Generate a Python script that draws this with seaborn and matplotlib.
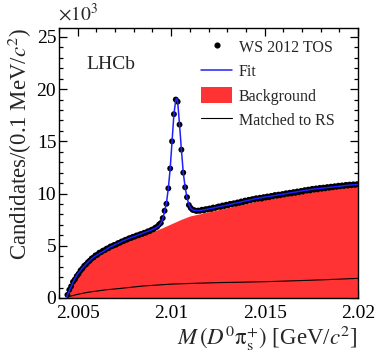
import numpy as np
import pandas as pd
import matplotlib
matplotlib.use("Agg")
import matplotlib.pyplot as plt
from matplotlib.ticker import MultipleLocator
from matplotlib.lines import Line2D
from matplotlib.patches import Patch
import seaborn as sns

# ---------------- data (values in units of 10^3 candidates) ----------------
bin_first_center = 2.00445   # GeV/c^2
bin_width = 0.0001           # 0.1 MeV/c^2

data_counts = [
    0.30, 0.78, 1.12, 1.55, 1.78, 2.10, 2.32, 2.63, 2.82, 3.08,
    3.22, 3.43, 3.58, 3.79, 3.88, 4.08, 4.13, 4.33, 4.38, 4.53,
    4.58, 4.73, 4.77, 4.93, 4.96, 5.08, 5.10, 5.25, 5.28, 5.41,
    5.44, 5.57, 5.60, 5.72, 5.74, 5.86, 5.88, 5.99, 6.00, 6.11,
    6.13, 6.24, 6.26, 6.38, 6.40, 6.53, 6.58, 6.73, 6.82, 7.03,
    7.18, 7.65, 8.35, 9.02, 10.5, 12.4, 15.0, 17.6, 19.0, 18.8,
    16.6, 14.2, 12.0, 10.6, 9.65, 8.90, 8.62, 8.44, 8.40, 8.33,
    8.37, 8.35,
    8.45, 8.38, 8.51, 8.47, 8.57, 8.52, 8.66, 8.62, 8.70, 8.77,
    8.72, 8.86, 8.80, 8.93, 8.88, 9.01, 8.97, 9.07, 9.02, 9.15,
    9.10, 9.24, 9.18, 9.33, 9.27, 9.40, 9.36, 9.47, 9.43, 9.55,
    9.49, 9.60, 9.52, 9.66, 9.61, 9.72, 9.65, 9.77, 9.74, 9.86,
    9.79, 9.90, 9.84, 9.95, 9.91, 10.03, 9.97, 10.08, 10.01, 10.14,
    10.07, 10.20, 10.13, 10.25, 10.19, 10.33, 10.27, 10.38, 10.30, 10.45,
    10.37, 10.49, 10.40, 10.54, 10.46, 10.57, 10.50, 10.62, 10.55, 10.66,
    10.60, 10.70, 10.64, 10.75, 10.69, 10.78, 10.72, 10.83, 10.76, 10.86,
    10.80, 10.88, 10.82, 10.90,
]

fit_mass = [2.00441, 2.00445, 2.0046, 2.0048, 2.0050, 2.0052, 2.0055, 2.0058,
            2.0061, 2.0064, 2.0067, 2.0070, 2.0074, 2.0078, 2.0082, 2.0086,
            2.0089, 2.0092, 2.00935, 2.00945, 2.00955, 2.00965, 2.00975,
            2.00985, 2.00995, 2.01005, 2.01015, 2.01025, 2.0103, 2.01035,
            2.01045, 2.01055, 2.01065, 2.01075, 2.01085, 2.01095, 2.01105,
            2.01115, 2.0113, 2.0115, 2.0118, 2.0122, 2.0126, 2.0130, 2.0135,
            2.0140, 2.0145, 2.0150, 2.0155, 2.0160, 2.0165, 2.0170, 2.0175,
            2.0180, 2.0185, 2.0190, 2.0195, 2.0200]
fit_vals = [0.0, 0.3, 0.9, 1.7, 2.3, 2.75, 3.35, 3.85, 4.2, 4.5, 4.85, 5.1,
            5.45, 5.75, 6.0, 6.28, 6.48, 6.72, 6.92, 7.15, 7.55, 8.3, 9.1,
            10.5, 12.4, 15.0, 17.6, 19.0, 19.1, 18.8, 16.6, 14.2, 12.0, 10.6,
            9.6, 8.95, 8.6, 8.45, 8.37, 8.37, 8.45, 8.6, 8.75, 8.9, 9.1, 9.3,
            9.5, 9.66, 9.8, 9.95, 10.1, 10.25, 10.4, 10.5, 10.6, 10.7, 10.8,
            10.87]

bkg_mass = [2.00441, 2.00445, 2.0046, 2.0048, 2.0050, 2.0052, 2.0055, 2.0058,
            2.0060, 2.0063, 2.0066, 2.0070, 2.0074, 2.0078, 2.0082, 2.0086,
            2.0090, 2.0095, 2.0100, 2.0105, 2.0110, 2.0115, 2.0120, 2.0125,
            2.0130, 2.0135, 2.0140, 2.0145, 2.0150, 2.0155, 2.0160, 2.0165,
            2.0170, 2.0175, 2.0180, 2.0185, 2.0190, 2.0195, 2.0200]
bkg_vals = [0.0, 0.2, 0.8, 1.6, 2.2, 2.65, 3.25, 3.7, 3.95, 4.3, 4.6, 4.95,
            5.3, 5.6, 5.85, 6.1, 6.35, 6.7, 7.1, 7.5, 7.85, 8.05, 8.25, 8.45,
            8.65, 8.85, 9.05, 9.25, 9.42, 9.58, 9.73, 9.88, 10.02, 10.15,
            10.28, 10.4, 10.5, 10.6, 10.68]

rs_mass = [2.00441, 2.00448, 2.0050, 2.00555, 2.0065, 2.00735, 2.0085, 2.0100,
           2.0115, 2.0127, 2.0140, 2.0154, 2.0168, 2.0181, 2.0200]
rs_vals = [0.0, 0.12, 0.35, 0.55, 0.78, 0.93, 1.15, 1.33, 1.42, 1.48, 1.52,
           1.58, 1.66, 1.74, 1.88]

x_ticks = [2.005, 2.01, 2.015, 2.02]
x_tick_labels = ["2.005", "2.01", "2.015", "2.02"]
y_ticks = [0, 5, 10, 15, 20, 25]

# ---------------- plotting ----------------
sns.set_theme(style="ticks")
plt.rcParams["font.family"] = ["Liberation Serif", "DejaVu Serif"]
plt.rcParams["mathtext.fontset"] = "stix"

data_mass = bin_first_center + bin_width * np.arange(len(data_counts))
df_data = pd.DataFrame({"mass": data_mass, "cand": data_counts})
df_fit = pd.DataFrame({"mass": fit_mass, "cand": fit_vals})
df_rs = pd.DataFrame({"mass": rs_mass, "cand": rs_vals})

fig = plt.figure(figsize=(3.76, 3.52), dpi=100)
ax = fig.add_axes([59 / 376, 54 / 352, (358 - 59) / 376, (298 - 28) / 352])

RED = "#ff3333"
BLUE = "#1f1fff"

ax.fill_between(bkg_mass, 0, bkg_vals, color=RED, lw=0, zorder=1)
sns.lineplot(data=df_rs, x="mass", y="cand", color="black", lw=0.8, ax=ax,
             zorder=2, estimator=None, sort=False)
sns.scatterplot(data=df_data, x="mass", y="cand", color="black", s=18,
                edgecolor="none", ax=ax, zorder=3)
sns.lineplot(data=df_fit, x="mass", y="cand", color=BLUE, lw=1.1, ax=ax,
             zorder=4, estimator=None, sort=False)

ax.set_xlim(2.004, 2.02)
ax.set_ylim(0, 25.85)
ax.set_xticks(x_ticks)
ax.set_xticklabels(x_tick_labels)
ax.set_yticks(y_ticks)
ax.xaxis.set_minor_locator(MultipleLocator(0.001))
ax.yaxis.set_minor_locator(MultipleLocator(1))
ax.tick_params(which="both", direction="in", top=True, right=True,
               colors="black", labelsize=14, width=0.9)
ax.tick_params(which="major", length=6)
ax.tick_params(which="minor", length=3)
ax.tick_params(axis="y", pad=2)
ax.tick_params(axis="x", pad=5)
for s in ax.spines.values():
    s.set_linewidth(1.0)
    s.set_color("black")

ax.set_xlabel(r"$M\,(D^0\mathrm{π}^{+}_{\mathrm{s}})$ [GeV/$c^2$]",
              fontsize=16.5, loc="right", labelpad=1)
ax.set_ylabel(r"Candidates/(0.1 MeV/$c^2$)", fontsize=16.5, loc="top",
              labelpad=2)

ax.text(-0.005, 1.012, r"$\times10^3$", transform=ax.transAxes, fontsize=14,
        ha="left", va="bottom")
ax.text(0.093, 0.865, "LHCb", transform=ax.transAxes, fontsize=14,
        ha="left", va="center")

handles = [
    Line2D([], [], marker="o", color="black", lw=0, markersize=3.4),
    Line2D([], [], color=BLUE, lw=1.1),
    Patch(facecolor=RED, edgecolor="none"),
    Line2D([], [], color="black", lw=0.8),
]
labels = ["WS 2012 TOS", "Fit", "Background", "Matched to RS"]
ax.legend(handles, labels, loc="upper left", bbox_to_anchor=(0.455, 0.985),
          frameon=False, fontsize=11.5, handlelength=1.9, handleheight=1.2,
          handletextpad=0.45, labelspacing=0.42, borderaxespad=0)

fig.savefig("out.png", dpi=100)
